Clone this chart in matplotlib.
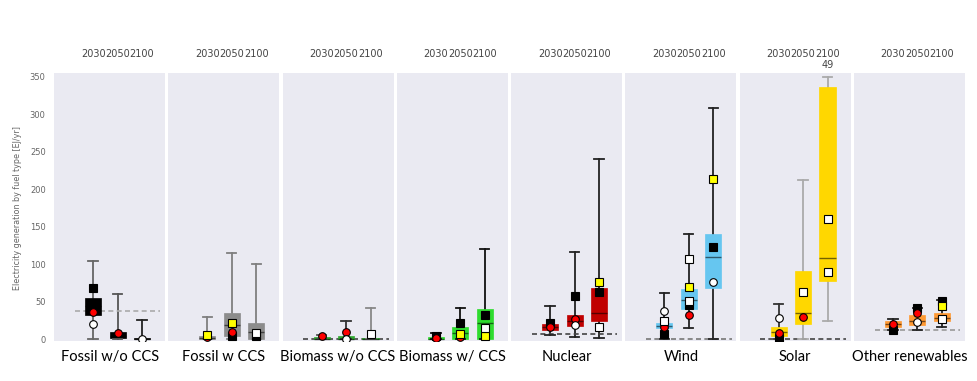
import numpy as np
import matplotlib
matplotlib.use("Agg")
import matplotlib.pyplot as plt

nan = np.nan

categories = ["Fossil w/o CCS", "Fossil w CCS", "Biomass w/o CCS", "Biomass w/ CCS",
              "Nuclear", "Wind", "Solar", "Other renewables"]
years = ["2030", "2050", "2100"]

whisker_low = [[1, 0, 0], [0, 0, 0], [0, 0, 0], [0, 0, 0],
               [6, 3, 2], [0, 15, 0], [0, 0, 25], [12, 13, 17]]
q1 = [[33, 2, 0], [0, 5, 0], [0, 0, 0], [0, 0, 0],
      [12, 18, 24], [15, 41, 69], [5, 21, 78], [17, 19, 24]]
median = [[45, 5, 1], [2, 19, 10], [1, 1, 1], [1, 8, 22],
          [16, 24, 35], [18, 53, 110], [10, 35, 109], [20, 25, 29]]
q3 = [[55, 10, 2], [5, 35, 22], [3, 4, 2], [3, 17, 40],
      [21, 33, 68], [22, 67, 140], [17, 91, 337], [24, 33, 35]]
whisker_high = [[105, 61, 26], [30, 115, 100], [6, 25, 42], [8, 42, 121],
                [45, 117, 241], [62, 140, 309], [47, 212, 350], [27, 42, 52]]

black_marks = [[68, nan, nan], [nan, 5, 5], [nan, nan, nan], [4, 21.5, 32.5],
               [21.5, 58, 63], [7, 46, 122.6], [2, nan, nan], [13, 41.5, 51.6]]
red_marks = [[36, 8, nan], [3, 10, nan], [5, 10, nan], [2, 3, nan],
             [17, 27, nan], [17, 32.6, nan], [9, 30, nan], [21, 35, nan]]
yellow_marks = [[nan, nan, nan], [6, 21.5, nan], [nan, nan, nan], [nan, 7, 4],
                [nan, nan, 77], [nan, 70, 214], [nan, nan, nan], [nan, nan, 44.5]]
white_circle = [[20, nan, 0.5], [nan, nan, nan], [nan, 1, nan], [nan, nan, nan],
                [nan, 19, nan], [38, nan, 76], [28, nan, nan], [nan, 23.6, nan]]
white_square = [[nan, nan, nan], [nan, nan, 9], [nan, nan, 7], [nan, nan, 15],
                [nan, nan, 17], [24, 107, nan], [nan, 63, 160], [nan, nan, 27]]
white_square_extra = [[nan, nan, nan], [nan, nan, nan], [nan, nan, nan], [nan, nan, nan],
                      [nan, nan, nan], [nan, 51.6, nan], [nan, nan, 90], [nan, nan, nan]]
reference_level = [38, nan, 0.5, nan, 7.3, 0.5, 0.5, 12.6]
outlier_count = ["", "", "", "", "", "", "49", ""]

# styles
box_colors = ["#000000", "#8c8c8c", "#2fa82f", "#2edc2e",
              "#c00000", "#66c6f0", "#ffd700", "#ff9933"]
whisker_colors = [["#666666", "#555555", "#222222"], ["#7f7f7f"] * 3,
                  ["#555555", "#333333", "#888888"], ["#111111"] * 3,
                  ["#222222"] * 3, ["#222222"] * 3,
                  ["#333333", "#aaaaaa", "#aaaaaa"], ["#222222"] * 3]
ref_colors = ["#aaaaaa", "#888888", "#444444", "#444444",
              "#444444", "#777777", "#444444", "#999999"]

W, H = 978, 381
fig = plt.figure(figsize=(W / 100, H / 100), dpi=100)
fig.patch.set_facecolor("white")
left, right, top, bottom = 54 / W, 965 / W, 1 - 73 / H, 1 - 341 / H
axes = fig.subplots(1, 8, sharey=True,
                    gridspec_kw=dict(left=left, right=right, top=top, bottom=bottom, wspace=0.027))

pos = np.arange(3)
mk = dict(ms=5.5, mec="black", mew=0.8, zorder=4, ls="none")
for i, ax in enumerate(axes):
    ax.set_facecolor("#eaeaf2")
    for s in ax.spines.values():
        s.set_visible(False)
    stats = []
    for j in range(3):
        stats.append(dict(whislo=whisker_low[i][j], q1=q1[i][j], med=median[i][j],
                          q3=q3[i][j], whishi=whisker_high[i][j], label=years[j]))
    bp = ax.bxp(stats, positions=pos, widths=0.66, patch_artist=True, showfliers=False,
                boxprops=dict(facecolor=box_colors[i], edgecolor=box_colors[i], linewidth=0.5),
                medianprops=dict(color="#000000", alpha=0.55, linewidth=1.0),
                whiskerprops=dict(linewidth=1.3), capprops=dict(linewidth=1.3),
                capwidths=0.38, manage_ticks=False)
    for j in range(3):
        c = whisker_colors[i][j]
        for k in (2 * j, 2 * j + 1):
            bp["whiskers"][k].set_color(c)
            bp["caps"][k].set_color(c)
            bp["whiskers"][k].set_zorder(1.5)
        bp["boxes"][j].set_zorder(2)
        bp["medians"][j].set_zorder(2.1)
    if not np.isnan(reference_level[i]):
        ax.hlines(reference_level[i], -0.75, 2.75, colors=ref_colors[i],
                  linestyles=(0, (3, 2)), linewidth=1.2, zorder=1.8)
    ax.plot(pos, black_marks[i], "s", mfc="black", **mk)
    ax.plot(pos, red_marks[i], "o", mfc="#ff0000", **mk)
    ax.plot(pos, yellow_marks[i], "s", mfc="#ffff00", **mk)
    ax.plot(pos, white_circle[i], "o", mfc="white", **mk)
    ax.plot(pos, white_square[i], "s", mfc="white", **mk)
    ax.plot(pos, white_square_extra[i], "s", mfc="white", **mk)
    if outlier_count[i]:
        ax.annotate(outlier_count[i], xy=(pos[2], 1.0), xycoords=("data", "axes fraction"),
                    xytext=(0, 2), textcoords="offset points", ha="center", va="bottom",
                    fontsize=7, color="#444444")
    ax.set_xlim(-1.6, 2.95)
    ax.set_ylim(-2, 355)
    ax.xaxis.tick_top()
    ax.set_xticks(pos)
    ax.set_xticklabels(years)
    ax.tick_params(axis="x", length=0, pad=10, labelsize=7, labelcolor="#444444")
    ax.tick_params(axis="y", length=0, pad=6, labelsize=6, labelcolor="#666666")
    ax.text(0.5, -0.06, categories[i], transform=ax.transAxes, ha="center", va="center",
            fontsize=10.5, family="Lato", color="black")
    ax.grid(False)

axes[0].set_yticks(np.arange(0, 351, 50))
fig.text(18 / W, 1 - 208 / H, "Electricity generation by fuel type [EJ/yr]", rotation=90,
         ha="center", va="center", fontsize=5.8, color="#666666")

fig.savefig("out.png", dpi=100)
